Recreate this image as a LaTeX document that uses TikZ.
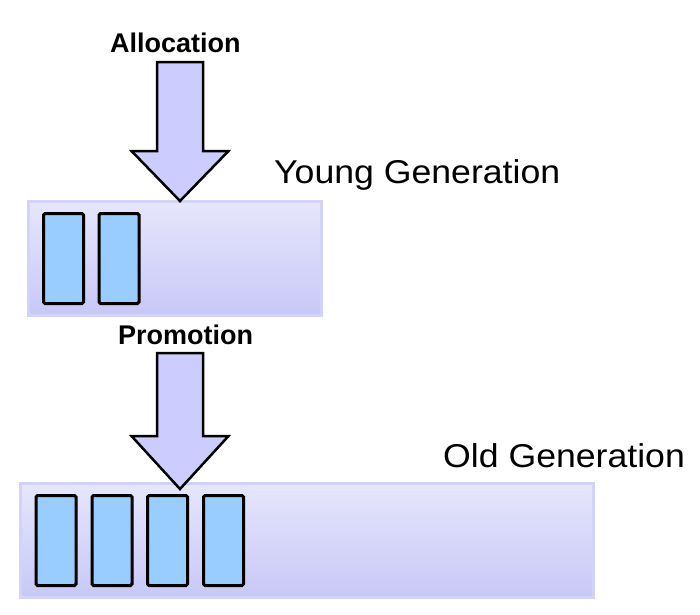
\documentclass[tikz,border=0pt]{standalone}
\usepackage{fontspec}
\usepackage{graphicx}
\setmainfont{Liberation Sans}
\usetikzlibrary{calc}
\definecolor{arrowfill}{HTML}{CCCCFF}
\definecolor{genrim}{HTML}{D2D2FB}
\definecolor{gentop}{HTML}{E6E6FC}
\definecolor{genbot}{HTML}{C8C8F8}
\definecolor{objfill}{HTML}{99CCFF}
\tikzset{
  genbox/.style={draw=genrim, line width=3pt, top color=gentop, bottom color=genbot, inner sep=0pt},
  objbox/.style={draw=black, line width=3pt, fill=objfill, rounded corners=1.5pt, inner sep=0pt, minimum width=40pt, minimum height=90pt},
  bigarrow/.style={draw=black, line width=2.5pt, fill=arrowfill, line join=miter},
  steplabel/.style={font=\bfseries\fontsize{27}{30}\selectfont, anchor=base west, inner sep=0pt},
  genlabel/.style={font=\fontsize{33}{38}\selectfont, anchor=base west, inner sep=0pt}
}
\begin{document}
\begin{tikzpicture}[x=1pt,y=-1pt]
\useasboundingbox (0,0) rectangle (700,614);

% young generation
\node[genbox, minimum width=293pt, minimum height=114pt] (young) at (175,258.5) {};
\node[objbox] (y1) at (63.5,258.5) {};
\node[objbox] (y2) at (119,258.5) {};
\node[genlabel] (younglbl) at (274,183) {\scalebox{1.08}[1]{Young Generation}};

\node[steplabel] (alloc) at (110,52) {Allocation};
\coordinate (alloctop) at (180,62);
\coordinate (alloctip) at (180,201);
\draw[bigarrow] ($(alloctop)+(-23,0)$) -- ($(alloctop)+(23,0)$) -- ($(alloctip)+(23,-50)$)
  -- ($(alloctip)+(48.5,-50)$) -- (alloctip) -- ($(alloctip)+(-48.5,-50)$)
  -- ($(alloctip)+(-23,-50)$) -- cycle;

%-------------------------------------
% old generation
\node[genbox, minimum width=573pt, minimum height=114pt] (old) at (307,540.5) {};
\node[objbox] (o1) at (56,540.5) {};
\node[objbox] (o2) at (112,540.5) {};
\node[objbox] (o3) at (167.5,540.5) {};
\node[objbox] (o4) at (223.5,540.5) {};
\node[genlabel] (oldlbl) at (443,467) {\scalebox{1.08}[1]{Old Generation}};

\node[steplabel] (promo) at (118,344) {Promotion};
\coordinate (promotop) at (180,353);
\coordinate (promotip) at (180,489);
\draw[bigarrow] ($(promotop)+(-23,0)$) -- ($(promotop)+(23,0)$) -- ($(promotip)+(23,-53)$)
  -- ($(promotip)+(48.5,-53)$) -- (promotip) -- ($(promotip)+(-48.5,-53)$)
  -- ($(promotip)+(-23,-53)$) -- cycle;

\end{tikzpicture}
\end{document}
